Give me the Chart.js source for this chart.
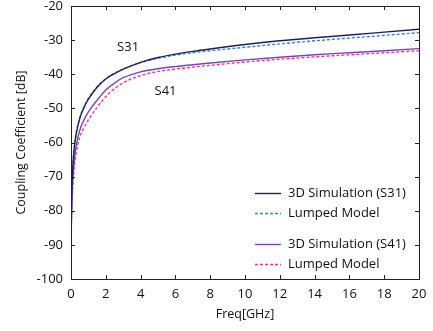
<!DOCTYPE html>
<html>
<head>
<meta charset="utf-8">
<script src="https://cdn.jsdelivr.net/npm/chart.js@4/dist/chart.umd.min.js"></script>
<style>
html,body{margin:0;padding:0;background:#fff;}
#wrap{width:433px;height:331px;position:relative;}
</style>
</head>
<body>
<div id="wrap"><canvas id="c" width="433" height="331"></canvas></div>
<script>
const freq       = [0.01, 0.02, 0.05, 0.1, 0.2, 0.3, 0.5, 0.75, 1, 1.5, 2, 2.5, 3, 4, 5, 6, 7, 8, 10, 12, 14, 16, 18, 20];
const s31Sim     = [-87.5, -82, -74, -67.5, -61, -57.5, -53, -49.7, -47.3, -43.8, -41.4, -39.8, -38.5, -36.5, -35.1, -34.1, -33.3, -32.6, -31.3, -30.2, -29.3, -28.5, -27.65, -26.8];
const s31Lumped  = [-88, -81.7, -73.7, -67.2, -60.7, -57.2, -52.8, -49.5, -47.1, -43.7, -41.3, -39.7, -38.5, -36.6, -35.3, -34.4, -33.7, -33.1, -32.1, -31.1, -30.2, -29.4, -28.6, -27.8];
const s41Sim     = [-88, -84, -77, -71, -64.5, -61, -56.5, -53.3, -51, -47.6, -44.6, -42.6, -41.0, -39.3, -38.4, -37.75, -37.2, -36.7, -35.8, -35.0, -34.3, -33.7, -33.1, -32.5];
const s41Lumped  = [-90, -86, -79, -73, -66.5, -63, -58.5, -55.6, -53.4, -49.7, -46.5, -44.2, -42.5, -40.4, -39.2, -38.5, -37.9, -37.4, -36.4, -35.6, -34.9, -34.3, -33.7, -33.1];
const xTicks     = [0, 2, 4, 6, 8, 10, 12, 14, 16, 18, 20];
const yTicks     = [-100, -90, -80, -70, -60, -50, -40, -30, -20];
const seriesNames = ["3D Simulation (S31)", "Lumped Model", "3D Simulation (S41)", "Lumped Model"];
const curveLabels = [{text: "S31", x: 2.65, y: -32.0}, {text: "S41", x: 4.8, y: -44.9}];
const legendRows  = [-74.8, -80.8, -89.6, -95.7];

const FONT = "'Open Sans', 'Noto Sans', sans-serif";
const colors = ["#1f1f5e", "#3b82c9", "#7b45b0", "#ea3a7e"];
const dashes = [[], [3, 2], [], [3, 2]];
const values = [s31Sim, s31Lumped, s41Sim, s41Lumped];

const datasets = values.map((v, i) => ({
  label: seriesNames[i],
  data: freq.map((f, k) => ({x: f, y: v[k]})),
  borderColor: colors[i],
  borderWidth: 1.4,
  borderDash: dashes[i],
  pointRadius: 0,
  fill: false,
  cubicInterpolationMode: 'monotone'
}));

const extras = {
  id: 'extras',
  afterDraw(chart) {
    const ctx = chart.ctx;
    const xs = chart.scales.x, ys = chart.scales.y;
    const a = chart.chartArea;
    ctx.save();
    ctx.strokeStyle = '#222';
    ctx.lineWidth = 1;
    ctx.strokeRect(Math.round(a.left) + 0.5, Math.round(a.top) + 0.5, Math.round(a.right - a.left), Math.round(a.bottom - a.top));
    const tl = 4;
    ctx.beginPath();
    xTicks.forEach(t => {
      const px = Math.round(xs.getPixelForValue(t)) + 0.5;
      ctx.moveTo(px, a.bottom); ctx.lineTo(px, a.bottom - tl);
      ctx.moveTo(px, a.top); ctx.lineTo(px, a.top + tl);
    });
    yTicks.forEach(t => {
      const py = Math.round(ys.getPixelForValue(t)) + 0.5;
      ctx.moveTo(a.left, py); ctx.lineTo(a.left + tl, py);
      ctx.moveTo(a.right, py); ctx.lineTo(a.right - tl, py);
    });
    ctx.stroke();
    ctx.fillStyle = '#111';
    ctx.font = "13px " + FONT;
    ctx.textAlign = 'left';
    ctx.textBaseline = 'middle';
    curveLabels.forEach(l => {
      ctx.fillText(l.text, xs.getPixelForValue(l.x), ys.getPixelForValue(l.y));
    });
    ctx.font = "13px " + FONT;
    const lx0 = 255, lx1 = 281, tx = 288;
    datasets.forEach((d, i) => {
      const py = Math.round(ys.getPixelForValue(legendRows[i])) + 0.5;
      ctx.beginPath();
      ctx.strokeStyle = d.borderColor;
      ctx.lineWidth = 1.4;
      ctx.setLineDash(d.borderDash);
      ctx.moveTo(lx0, py); ctx.lineTo(lx1, py);
      ctx.stroke();
      ctx.setLineDash([]);
      ctx.fillStyle = '#111';
      ctx.fillText(d.label, tx, py);
    });
    ctx.restore();
  }
};

new Chart(document.getElementById('c'), {
  type: 'line',
  data: {datasets},
  options: {
    responsive: false,
    animation: false,
    layout: {padding: {left: 0, right: 14, top: 6, bottom: 0}},
    plugins: {legend: {display: false}, tooltip: {enabled: false}},
    scales: {
      x: {
        type: 'linear', min: 0, max: 20,
        afterBuildTicks: s => { s.ticks = xTicks.map(v => ({value: v})); },
        afterFit: s => { s.height = 52; s.paddingLeft = 0; s.paddingRight = 0; },
        grid: {display: false, drawTicks: false},
        border: {display: false},
        ticks: {color: '#111', font: {size: 13, family: FONT}, padding: 7, maxRotation: 0},
        title: {display: true, text: 'Freq[GHz]', color: '#111', font: {size: 12.5, family: FONT}, padding: {top: 0, bottom: 9}}
      },
      y: {
        type: 'linear', min: -100, max: -20,
        afterBuildTicks: s => { s.ticks = yTicks.map(v => ({value: v})); },
        afterFit: s => { s.width = 71; s.paddingTop = 0; s.paddingBottom = 0; },
        grid: {display: false, drawTicks: false},
        border: {display: false},
        ticks: {color: '#111', font: {size: 13, family: FONT}, padding: 8},
        title: {display: true, text: 'Coupling Coefficient [dB]', color: '#111', font: {size: 12.5, family: FONT}, padding: {top: 14, bottom: 0}}
      }
    }
  },
  plugins: [extras]
});
</script>
</body>
</html>
